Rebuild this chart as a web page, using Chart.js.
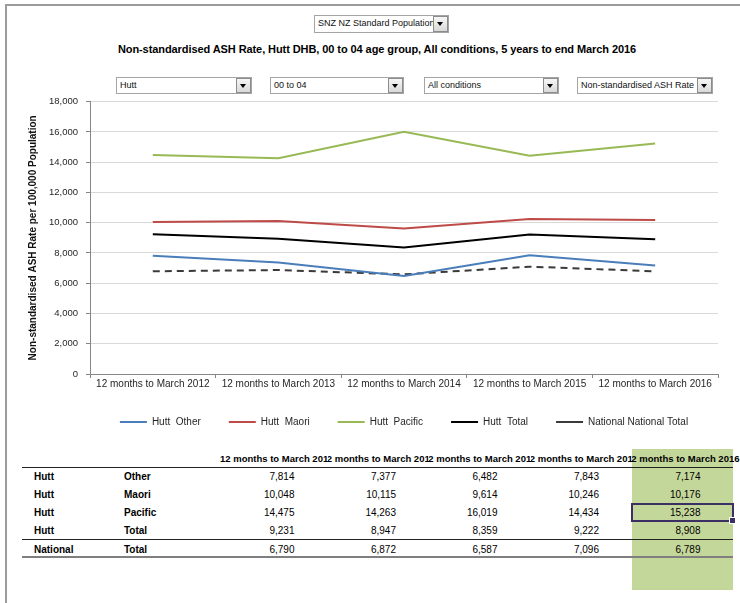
<!DOCTYPE html>
<html>
<head>
<meta charset="utf-8">
<script src="https://cdn.jsdelivr.net/npm/chart.js@4.4.0/dist/chart.umd.min.js"></script>
<style>
  body { margin: 0; width: 740px; height: 603px; position: relative; overflow: hidden; background: #fff;
         font-family: 'Liberation Sans', Arial, sans-serif; color: #000; }
  .frame-top { position: absolute; left: 5px; top: 4px; width: 735px; height: 2px; background: #9c9c9c; }
  .frame-left { position: absolute; left: 5px; top: 4px; width: 2px; height: 599px; background: #9c9c9c; }

  .dd { position: absolute; height: 17px; border: 1px solid #a5a5a5; background: #fff; box-sizing: border-box;
        font-size: 9px; line-height: 15px; padding-left: 3px; overflow: hidden; white-space: nowrap; color: #111; }
  .dd .btn { position: absolute; right: 0; top: 0; width: 15px; height: 15px; box-sizing: border-box;
             border: 1px solid #8c8c8c; background: linear-gradient(#f6f6f6, #d9d9d9); }
  .dd .btn::after { content: ''; position: absolute; left: 3px; top: 5px; border-left: 3.5px solid transparent;
                    border-right: 3.5px solid transparent; border-top: 4px solid #000; }

  .title { position: absolute; left: 0; width: 754px; top: 43px; text-align: center; font-size: 11px;
           font-weight: bold; letter-spacing: -0.08px; }
  #chartBox { position: absolute; left: 0; top: 88px; width: 740px; height: 349px; }

  .green { position: absolute; left: 632px; top: 449px; width: 101px; height: 141px; background: #c4d79b; }
  .cell { position: absolute; height: 18px; line-height: 18px; font-size: 10px; white-space: nowrap; }
  .bold { font-weight: bold; }
  .hclip { position: absolute; top: 450px; height: 18px; overflow: hidden; }
  .hclip span { position: absolute; top: 0; line-height: 18px; font-size: 9.5px; font-weight: bold;
                white-space: nowrap; transform: translateX(-50%); }
  .rule { position: absolute; left: 22px; width: 711px; }
  .sel { position: absolute; left: 631px; top: 503px; width: 103px; height: 19px; box-sizing: border-box;
         border: 2px solid #3b2f63; }
  .sel::after { content: ''; position: absolute; right: -4px; bottom: -4px; width: 5px; height: 5px;
                background: #3b2f63; border: 1px solid #fff; }
</style>
</head>
<body>
<div class="frame-top"></div>
<div class="frame-left"></div>

<div class="dd" style="left:314px; top:15px; width:135px; height:18px;">SNZ NZ Standard Population<div class="btn" style="height:16px;"></div></div>
<div class="title">Non-standardised ASH Rate, Hutt DHB, 00 to 04 age group, All conditions, 5 years to end March 2016</div>
<div class="dd" style="left:116px; top:77px; width:136px;">Hutt<div class="btn"></div></div>
<div class="dd" style="left:270px; top:77px; width:134px;">00 to 04<div class="btn"></div></div>
<div class="dd" style="left:424px; top:77px; width:135px;">All conditions<div class="btn"></div></div>
<div class="dd" style="left:577px; top:77px; width:136px;">Non-standardised ASH Rate<div class="btn"></div></div>

<div id="chartBox"><canvas id="ashChart"></canvas></div>

<div class="green"></div>
<div id="table"></div>

<script>
// Reporting periods and rates per 100,000 (0-4 year olds)
const periods = ['12 months to March 2012', '12 months to March 2013', '12 months to March 2014',
                 '12 months to March 2015', '12 months to March 2016'];
const huttOther   = [7814, 7377, 6482, 7843, 7174];
const huttMaori   = [10048, 10115, 9614, 10246, 10176];
const huttPacific = [14475, 14263, 16019, 14434, 15238];
const huttTotal   = [9231, 8947, 8359, 9222, 8908];
const nationalTotal = [6790, 6872, 6587, 7096, 6789];

const yMin = 0, yMax = 18000, yStep = 2000;

const fontFamily = "'Liberation Sans', Arial, sans-serif";
Chart.defaults.font.family = fontFamily;
Chart.defaults.color = '#262626';

const fmt = v => v.toLocaleString('en-US');

function series(label, data, color, dash) {
    return {
        label: label,
        data: data,
        borderColor: color,
        backgroundColor: color,
        borderWidth: 2,
        borderDash: dash || [],
        pointRadius: 0,
        pointHoverRadius: 0,
        tension: 0,
        fill: false
    };
}

new Chart(document.getElementById('ashChart'), {
    type: 'line',
    data: {
        labels: periods,
        datasets: [
            series('Hutt  Other', huttOther, '#4a7ebb'),
            series('Hutt  Maori', huttMaori, '#be4b48'),
            series('Hutt  Pacific', huttPacific, '#98b954'),
            series('Hutt  Total', huttTotal, '#000000'),
            series('National National Total', nationalTotal, '#3a3a3a', [7, 5])
        ]
    },
    options: {
        responsive: true,
        maintainAspectRatio: false,
        animation: false,
        layout: { padding: { left: 0, right: 22, top: 0, bottom: 0 } },
        plugins: {
            tooltip: { enabled: false },
            legend: {
                position: 'bottom',
                fullSize: false,
                labels: {
                    usePointStyle: true,
                    pointStyle: 'line',
                    pointStyleWidth: 27,
                    padding: 28,
                    font: { size: 10 },
                    color: '#262626'
                }
            }
        },
        scales: {
            x: {
                offset: true,
                grid: { drawOnChartArea: false, drawTicks: true, tickLength: 4, tickColor: '#868686', offset: true },
                border: { color: '#868686', width: 1 },
                ticks: { font: { size: 10 }, padding: 0, maxRotation: 0, autoSkip: false },
                afterFit: scale => { scale.height = 15; }
            },
            y: {
                min: yMin,
                max: yMax,
                title: {
                    display: true,
                    text: 'Non-standardised ASH Rate per 100,000 Population',
                    font: { size: 10, weight: 'bold' },
                    color: '#111',
                    padding: { top: 27, bottom: 0 }
                },
                ticks: { stepSize: yStep, font: { size: 9.5 }, padding: 8, callback: v => fmt(v) },
                grid: { color: '#d9d9d9', tickColor: '#868686', tickLength: 4 },
                border: { display: true, color: '#868686', width: 1 },
                afterFit: scale => { scale.width = 90; }
            }
        }
    }
});

// Data table under the chart, built from the same series
const tableRows = [
    ['Hutt', 'Other', huttOther],
    ['Hutt', 'Maori', huttMaori],
    ['Hutt', 'Pacific', huttPacific],
    ['Hutt', 'Total', huttTotal],
    ['National', 'Total', nationalTotal]
];
const colLeft = [226, 327.5, 429, 530.5, 632];
const colWidth = 101.5;
const table = document.getElementById('table');

function add(cls, style, text) {
    const d = document.createElement('div');
    d.className = cls;
    d.setAttribute('style', style);
    if (text !== undefined) d.textContent = text;
    table.appendChild(d);
    return d;
}

// column headers: centred text, clipped where the neighbour cell has content
periods.forEach((p, i) => {
    const clipL = i === 0 ? 0 : colLeft[i];
    const clipR = i === periods.length - 1 ? 740 : colLeft[i] + colWidth;
    const box = add('hclip', `left:${clipL}px; width:${clipR - clipL}px;`);
    const s = document.createElement('span');
    s.textContent = p;
    s.style.left = (colLeft[i] + colWidth / 2 - clipL) + 'px';
    box.appendChild(s);
});

add('rule', 'top:467px; height:1px; background:#222;');
add('rule', 'top:539px; height:1px; background:#222;');
add('rule', 'top:556px; height:2px; background:#7f7f7f;');

tableRows.forEach((r, ri) => {
    const top = 468 + ri * 18 + (ri === 4 ? 0.5 : 0);
    add('cell bold', `left:34px; top:${top}px;`, r[0]);
    add('cell bold', `left:124px; top:${top}px;`, r[1]);
    r[2].forEach((v, ci) => {
        add('cell', `left:${colLeft[ci]}px; top:${top}px; width:${colWidth - 33}px; text-align:right;`, fmt(v));
    });
});

add('sel', '');
</script>
</body>
</html>
